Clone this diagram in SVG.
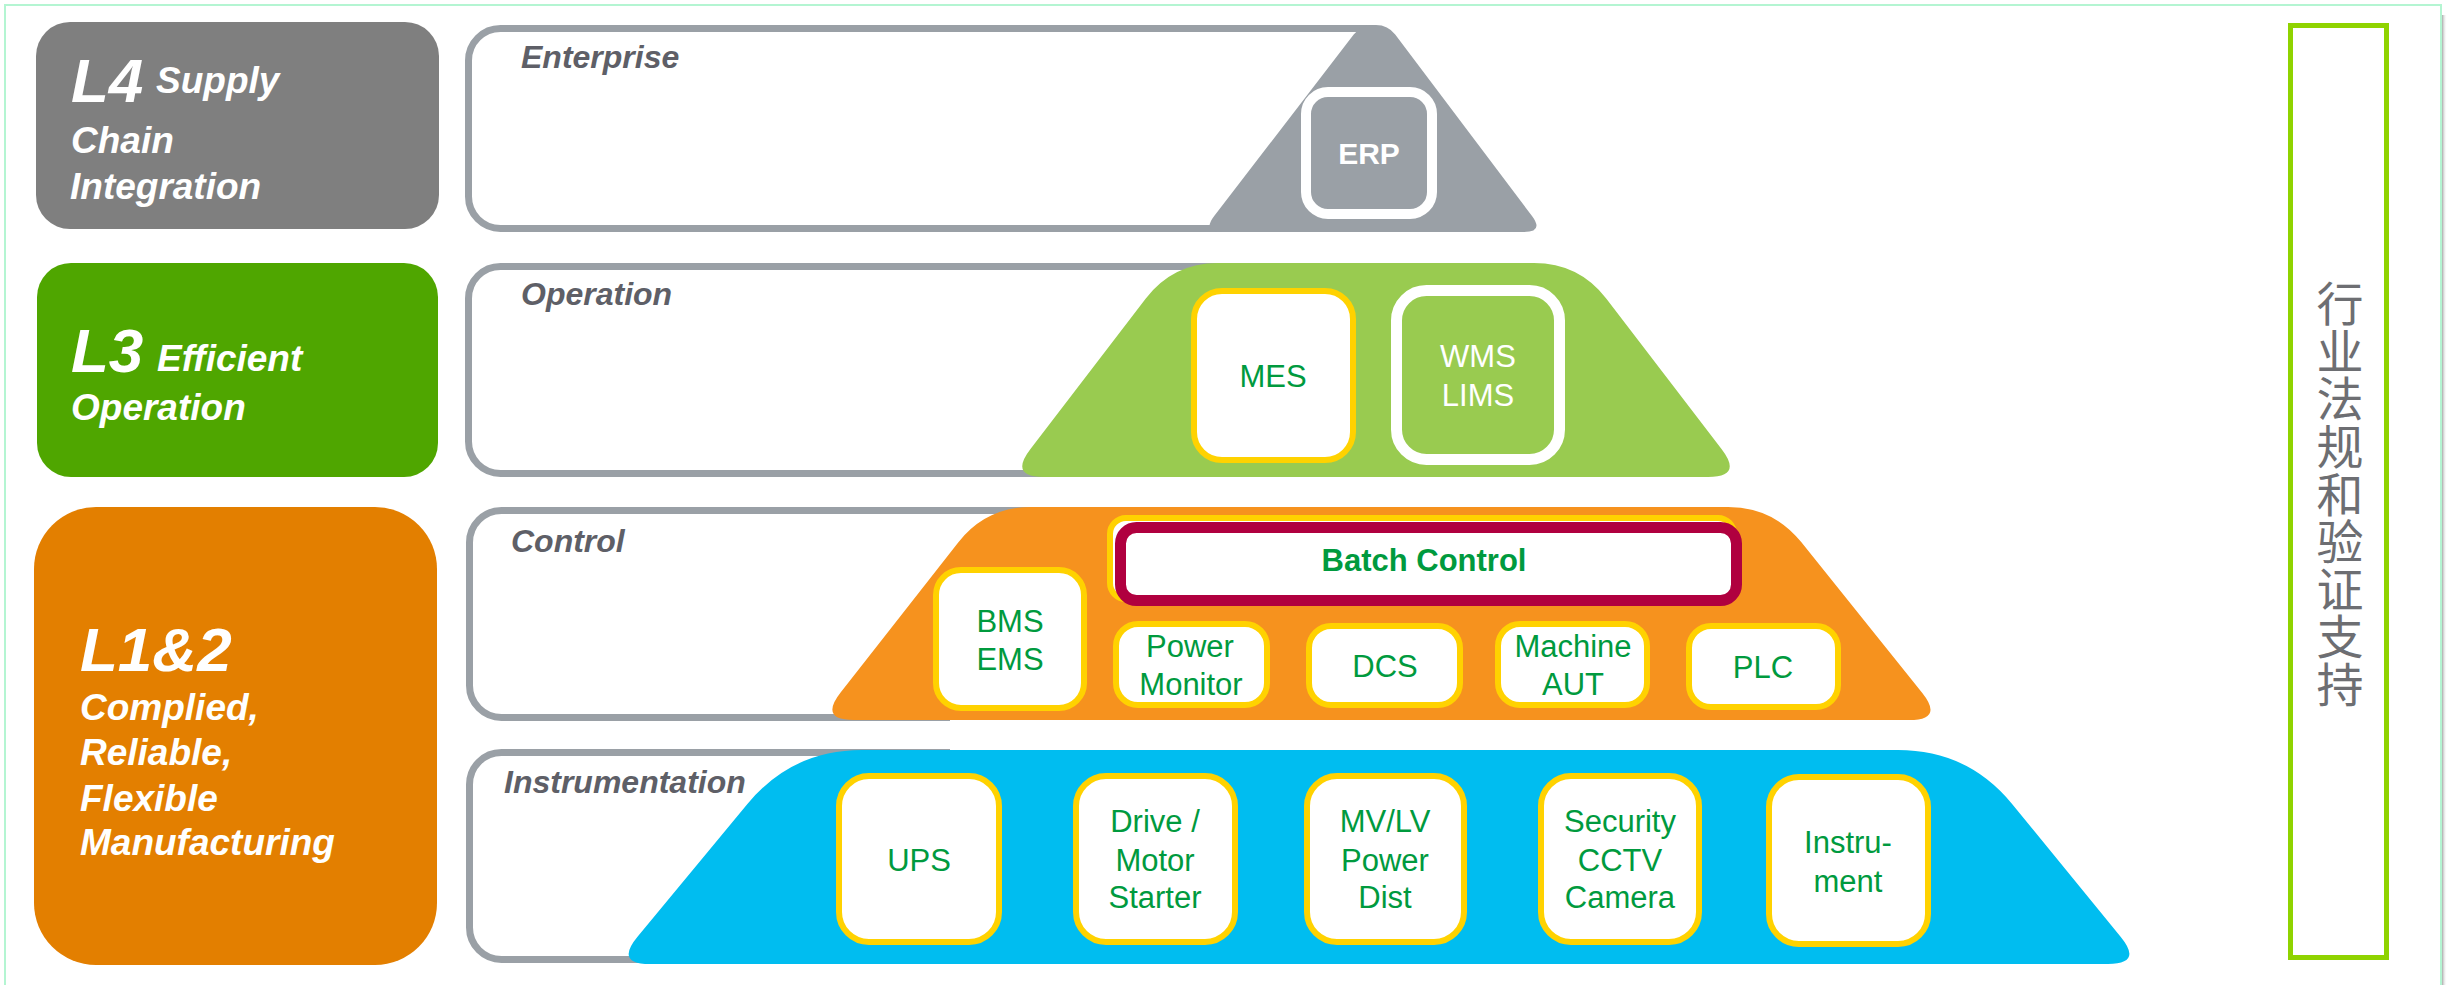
<svg xmlns="http://www.w3.org/2000/svg" width="2447" height="985" viewBox="0 0 2447 985">
<defs>
<linearGradient id="shadow" x1="0" y1="0" x2="1" y2="0">
<stop offset="0" stop-color="#a9a9a9"/>
<stop offset="1" stop-color="#ffffff" stop-opacity="0"/>
</linearGradient>
</defs>
<style>
.lbl{font-family:"Liberation Sans",Arial,sans-serif;font-weight:bold;font-style:italic;fill:#ffffff}
.big{font-size:62px}
.sub{font-size:37px}
.sec{font-family:"Liberation Sans",Arial,sans-serif;font-weight:bold;font-style:italic;font-size:32px;fill:#5e5f67}
.lvl{fill:#ffffff;stroke:#9aa0a6;stroke-width:7}
.yb{fill:#ffffff;stroke:#ffd200;stroke-width:6}
.t{font-family:"Liberation Sans",Arial,sans-serif;font-size:31px;fill:#009a3e;text-anchor:middle}
.tw{font-family:"Liberation Sans",Arial,sans-serif;font-size:31px;fill:#ffffff;text-anchor:middle}
.cjk{font-family:"Noto Sans CJK SC",sans-serif;font-size:47px;fill:#6d6e72;text-anchor:middle;writing-mode:vertical-rl;letter-spacing:0.6px}
</style>
<rect x="0" y="0" width="2447" height="985" fill="#ffffff"/>
<rect x="2442" y="15" width="5" height="970" fill="url(#shadow)"/>
<rect id="frame" x="5" y="5" width="2436" height="985" fill="none" stroke="#b4f5d2" stroke-width="2"/>

<g id="L4">
<rect x="36" y="22" width="403" height="207" rx="34" fill="#7f7f7f"/>
<text class="lbl big" x="71" y="102">L4</text>
<text class="lbl sub" x="156" y="93">Supply</text>
<text class="lbl sub" x="71" y="153">Chain</text>
<text class="lbl sub" x="70" y="199">Integration</text>
</g>
<g id="L3">
<rect x="37" y="263" width="401" height="214" rx="34" fill="#4fa600"/>
<text class="lbl big" x="71" y="372">L3</text>
<text class="lbl sub" x="157" y="371">Efficient</text>
<text class="lbl sub" x="71" y="420">Operation</text>
</g>
<g id="L12">
<rect x="34" y="507" width="403" height="458" rx="62" fill="#e37f00"/>
<text class="lbl big" x="80" y="671">L1&amp;2</text>
<text class="lbl sub" x="80" y="720">Complied,</text>
<text class="lbl sub" x="80" y="765">Reliable,</text>
<text class="lbl sub" x="80" y="811">Flexible</text>
<text class="lbl sub" x="80" y="855">Manufacturing</text>
</g>

<g id="enterprise">
<path class="lvl" d="M1375,28.5 H500.5 A32,32 0 0 0 468.5,60.5 V196.5 A32,32 0 0 0 500.5,228.5 H1300"/>
<text class="sec" x="521" y="68">Enterprise</text>
<path d="M1373,25 H1376 Q1388,25 1395.2,34.6 L1532,216 Q1544,232 1524,232 H1222 Q1202,232 1214.2,216.1 L1353.7,34.5 Q1361,25 1373,25 Z" fill="#9aa0a6"/>
<g id="erp">
<rect x="1306" y="92" width="126" height="122" rx="22" fill="#9aa0a6" stroke="#ffffff" stroke-width="10"/>
<text class="tw" x="1369" y="164" font-weight="bold" style="font-size:30px">ERP</text>
</g>
</g>

<g id="operation">
<path class="lvl" d="M1250,266.5 H500.5 A32,32 0 0 0 468.5,298.5 V441.5 A32,32 0 0 0 500.5,473.5 H1100"/>
<text class="sec" x="521" y="305">Operation</text>
<path d="M1218,263 H1534 Q1579,263 1606.4,298.7 L1721.7,449.2 Q1743,477 1708,477 H1044 Q1009,477 1030.3,449.2 L1145.6,298.7 Q1173,263 1218,263 Z" fill="#99cb50"/>
<g id="mes">
<rect class="yb" x="1194" y="291" width="159" height="169" rx="28"/>
<text class="t" x="1273" y="387">MES</text>
</g>
<g id="wms">
<rect x="1396.5" y="290.5" width="163" height="169" rx="30" fill="#99cb50" stroke="#ffffff" stroke-width="11"/>
<text class="tw" x="1478" y="367">WMS</text>
<text class="tw" x="1478" y="406">LIMS</text>
</g>
</g>

<g id="control">
<path class="lvl" d="M1100,510.5 H501.5 A32,32 0 0 0 469.5,542.5 V685.5 A32,32 0 0 0 501.5,717.5 H950"/>
<text class="sec" x="511" y="552">Control</text>
<path d="M1031,507 H1728 Q1773,507 1801.2,542.1 L1922.1,692.7 Q1944,720 1909,720 H854 Q819,720 840.6,692.5 L958.2,542.4 Q986,507 1031,507 Z" fill="#f6921e"/>
<g id="batch">
<rect class="yb" x="1110" y="518" width="624" height="81" rx="16"/>
<rect x="1120.5" y="527.5" width="616" height="73" rx="16" fill="#ffffff" stroke="#b0003f" stroke-width="11"/>
<text class="t" x="1424" y="571" font-weight="bold">Batch Control</text>
</g>
<g id="bms">
<rect class="yb" x="936" y="570" width="148" height="138" rx="25"/>
<text class="t" x="1010" y="632">BMS</text>
<text class="t" x="1010" y="670">EMS</text>
</g>
<g id="power-monitor">
<rect class="yb" x="1116" y="624" width="151" height="81" rx="22"/>
<text class="t" x="1190" y="657">Power</text>
<text class="t" x="1191" y="695">Monitor</text>
</g>
<g id="dcs">
<rect class="yb" x="1309" y="626" width="151" height="79" rx="22"/>
<text class="t" x="1385" y="677">DCS</text>
</g>
<g id="machine">
<rect class="yb" x="1498" y="624" width="149" height="81" rx="22"/>
<text class="t" x="1573" y="657">Machine</text>
<text class="t" x="1573" y="695">AUT</text>
</g>
<g id="plc">
<rect class="yb" x="1689" y="626" width="149" height="81" rx="22"/>
<text class="t" x="1763" y="678">PLC</text>
</g>
</g>

<g id="instrumentation">
<path class="lvl" d="M950,752.5 H501.5 A32,32 0 0 0 469.5,784.5 V927.5 A32,32 0 0 0 501.5,959.5 H750"/>
<text class="sec" x="504" y="793">Instrumentation</text>
<path d="M862,750 H1898 Q1968,750 2012.3,804.2 L2120.8,936.9 Q2143,964 2108,964 H650 Q615,964 637.3,937 L747.4,804 Q792,750 862,750 Z" fill="#00bdf0"/>
<g id="ups">
<rect class="yb" x="839" y="776" width="160" height="166" rx="30"/>
<text class="t" x="919" y="871">UPS</text>
</g>
<g id="drive">
<rect class="yb" x="1076" y="776" width="159" height="166" rx="30"/>
<text class="t" x="1155" y="832">Drive /</text>
<text class="t" x="1155" y="871">Motor</text>
<text class="t" x="1155" y="908">Starter</text>
</g>
<g id="mvlv">
<rect class="yb" x="1307" y="776" width="157" height="166" rx="30"/>
<text class="t" x="1385" y="832">MV/LV</text>
<text class="t" x="1385" y="871">Power</text>
<text class="t" x="1385" y="908">Dist</text>
</g>
<g id="security">
<rect class="yb" x="1541" y="776" width="158" height="166" rx="30"/>
<text class="t" x="1620" y="832">Security</text>
<text class="t" x="1620" y="871">CCTV</text>
<text class="t" x="1620" y="908">Camera</text>
</g>
<g id="instrument">
<rect class="yb" x="1769" y="777" width="159" height="167" rx="30"/>
<text class="t" x="1848" y="853">Instru-</text>
<text class="t" x="1848" y="892">ment</text>
</g>
</g>

<g id="compliance">
<rect x="2290.5" y="25.5" width="96" height="932" fill="#ffffff" stroke="#8fd300" stroke-width="5"/>
<text class="cjk" x="2340" y="494">行业法规和验证支持</text>
</g>

<g id="connectors"/>
</svg>
